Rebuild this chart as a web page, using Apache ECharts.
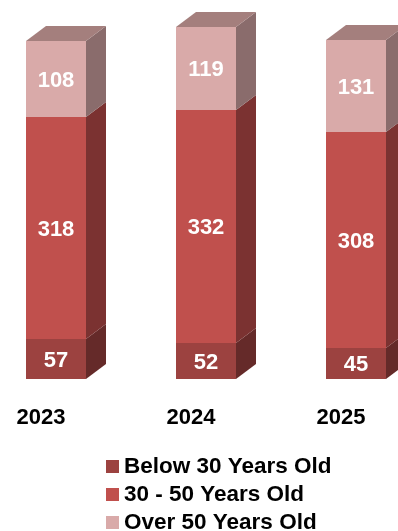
<!DOCTYPE html>
<html>
<head>
<meta charset="utf-8">
<style>html,body{margin:0;padding:0;background:#fff;overflow:hidden}#chart{width:398px;height:531px}</style>
<script src="https://cdn.jsdelivr.net/npm/echarts@6/dist/echarts.min.js"></script>
</head>
<body>
<div id="chart"></div>
<script>
const years = ['2023', '2024', '2025'];
const below30 = [57, 52, 45];
const from30to50 = [318, 332, 308];
const over50 = [108, 119, 131];

const FONT = 'bold 22px "Liberation Sans", Arial, sans-serif';
const DEPTH_X = 20, DEPTH_Y = 15, BAR_WIDTH = 60;

// Stacked box: front face, sheared right side, and a lid on the top segment only.
function boxRenderer(sideColor, lidColor) {
  return function (params, api) {
    const cx = api.coord([api.value(0), 0])[0];
    const x0 = Math.round(cx - BAR_WIDTH / 2), x1 = x0 + BAR_WIDTH;
    const yBase = Math.round(api.coord([0, api.value(1)])[1]);
    const yTop = Math.round(api.coord([0, api.value(2)])[1]);
    const children = [{
      type: 'polygon',
      shape: { points: [[x1, yBase], [x1 + DEPTH_X, yBase - DEPTH_Y], [x1 + DEPTH_X, yTop - DEPTH_Y], [x1, yTop]] },
      style: { fill: sideColor }
    }];
    if (lidColor) {
      children.push({
        type: 'polygon',
        shape: { points: [[x0, yTop], [x0 + DEPTH_X, yTop - DEPTH_Y], [x1 + DEPTH_X, yTop - DEPTH_Y], [x1, yTop]] },
        style: { fill: lidColor }
      });
    }
    children.push({
      type: 'rect',
      shape: { x: x0, y: yTop, width: BAR_WIDTH, height: yBase - yTop },
      style: { fill: api.visual('color') }
    });
    children.push({
      type: 'text',
      style: {
        text: String(api.value(2) - api.value(1)),
        x: (x0 + x1) / 2, y: (yBase + yTop) / 2 + 1.5,
        align: 'center', verticalAlign: 'middle',
        fill: '#fff', font: FONT
      }
    });
    return { type: 'group', children };
  };
}

function stackedRows(values, under) {
  return values.map((v, i) => [i, under[i], under[i] + v]);
}
const base1 = below30.map(() => 0);
const base2 = below30.slice();
const base3 = below30.map((v, i) => v + from30to50[i]);

const chart = echarts.init(document.getElementById('chart'));
chart.setOption({
  animation: false,
  backgroundColor: '#fff',
  grid: { left: -19, width: 450, top: 1, height: 378, outerBoundsMode: 'none' },
  xAxis: {
    type: 'category',
    data: years,
    axisLine: { show: false },
    axisTick: { show: false },
    axisLabel: {
      margin: 28,
      padding: [0, 30, 0, 0],
      color: '#000',
      fontFamily: '"Liberation Sans", Arial, sans-serif',
      fontWeight: 'bold',
      fontSize: 22
    }
  },
  yAxis: { type: 'value', min: 0, max: 540, show: false },
  legend: {
    orient: 'vertical',
    left: 101,
    top: 449,
    width: 290,
    height: 90,
    padding: 5,
    itemWidth: 13,
    itemHeight: 13,
    itemGap: 3,
    icon: 'rect',
    textStyle: {
      color: '#000',
      fontFamily: '"Liberation Sans", Arial, sans-serif',
      fontWeight: 'bold',
      fontSize: 22.5,
      lineHeight: 25
    },
    data: ['Below 30 Years Old', '30 - 50 Years Old', 'Over 50 Years Old']
  },
  series: [
    {
      name: 'Below 30 Years Old', type: 'custom',
      itemStyle: { color: '#9C4240' },
      encode: { x: 0, y: 2 },
      renderItem: boxRenderer('#652A29', null),
      data: stackedRows(below30, base1)
    },
    {
      name: '30 - 50 Years Old', type: 'custom',
      itemStyle: { color: '#C0504D' },
      encode: { x: 0, y: 2 },
      renderItem: boxRenderer('#7B3231', null),
      data: stackedRows(from30to50, base2)
    },
    {
      name: 'Over 50 Years Old', type: 'custom',
      itemStyle: { color: '#D9AAA9' },
      encode: { x: 0, y: 2 },
      renderItem: boxRenderer('#8A6C6C', '#A47F7D'),
      data: stackedRows(over50, base3)
    }
  ]
});
</script>
</body>
</html>
